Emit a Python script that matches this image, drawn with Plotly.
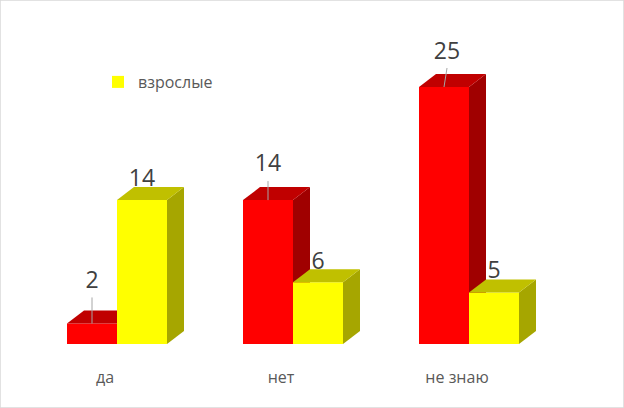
import plotly.graph_objects as go

categories = ["да", "нет", "не знаю"]
red_values = [2, 14, 25]
yellow_values = [14, 6, 5]
legend_name = "взрослые"

FONT = "Open Sans"
W, H = 624, 408
BASE_Y = 344          # pixel row of the axis
PX_PER_CAT = 176
PX_PER_UNIT = 10.28
GROUP0_X = 117        # pixel of first category centre

bar_w = 50 / PX_PER_CAT
dx = 17 / PX_PER_CAT
dy = 13 / PX_PER_UNIT
xrange_ = [-GROUP0_X / PX_PER_CAT, (W - GROUP0_X) / PX_PER_CAT]
yrange_ = [0, BASE_Y / PX_PER_UNIT]
pos = list(range(len(categories)))


def faces(values, offset, top_color, side_color, xa, ya):
    out = []
    for p, v in zip(pos, values):
        xl = p + offset
        xr = xl + bar_w
        out.append(go.Scatter(
            x=[xr, xr + dx, xr + dx, xr, xr], y=[0, dy, v + dy, v, 0],
            mode="lines", line=dict(width=0), fill="toself", fillcolor=side_color,
            showlegend=False, hoverinfo="skip", xaxis=xa, yaxis=ya))
        out.append(go.Scatter(
            x=[xl, xl + dx, xr + dx, xr, xl], y=[v, v + dy, v + dy, v, v],
            mode="lines", line=dict(width=0), fill="toself", fillcolor=top_color,
            showlegend=False, hoverinfo="skip", xaxis=xa, yaxis=ya))
    return out


fig = go.Figure()
fig.add_trace(go.Bar(x=pos, y=red_values, width=bar_w, offset=-bar_w,
                     marker=dict(color="#FF0000", line=dict(width=0)),
                     showlegend=False, xaxis="x", yaxis="y"))
fig.add_traces(faces(red_values, -bar_w, "#C00000", "#A00000", "x", "y"))

fig.add_trace(go.Bar(x=pos, y=yellow_values, width=bar_w, offset=0, name=legend_name,
                     marker=dict(color="#FFFF00", line=dict(width=0)),
                     showlegend=True, xaxis="x2", yaxis="y2"))
fig.add_traces(faces(yellow_values, 0, "#C0C000", "#A6A600", "x2", "y2"))

# leader lines and data labels
label_px_red = [41.5, 35, 34]
lead_px_red = [26, 19, 19]
lean_px_red = [0, 0, 3]
label_px_yellow = [20, 19, 20]
cx_red = -bar_w / 2
cx_yel = bar_w / 2
for p, v, lp, lean in zip(pos, red_values, lead_px_red, lean_px_red):
    fig.add_trace(go.Scatter(
        x=[p + cx_red, p + cx_red + lean / PX_PER_CAT], y=[v, v + lp / PX_PER_UNIT],
        mode="lines", line=dict(color="#A6A6A6", width=1), showlegend=False,
        hoverinfo="skip", xaxis="x2", yaxis="y2"))
fig.add_trace(go.Scatter(
    x=[p + cx_red + l / PX_PER_CAT for p, l in zip(pos, lean_px_red)],
    y=[v + o / PX_PER_UNIT for v, o in zip(red_values, label_px_red)],
    text=[str(v) for v in red_values], mode="text", textposition="middle center",
    textfont=dict(family=FONT, size=23, color="#404040"), showlegend=False,
    xaxis="x2", yaxis="y2"))
fig.add_trace(go.Scatter(
    x=[p + cx_yel for p in pos],
    y=[v + o / PX_PER_UNIT for v, o in zip(yellow_values, label_px_yellow)],
    text=[str(v) for v in yellow_values], mode="text", textposition="middle center",
    textfont=dict(family=FONT, size=23, color="#404040"), showlegend=False,
    xaxis="x2", yaxis="y2"))

fig.update_layout(
    width=W, height=H,
    margin=dict(l=0, r=0, t=0, b=H - BASE_Y, pad=0),
    paper_bgcolor="white", plot_bgcolor="white",
    barmode="overlay",
    font=dict(family=FONT, color="#595959", size=16),
    xaxis=dict(range=xrange_, tickmode="array", tickvals=pos, ticktext=categories,
               showgrid=False, zeroline=False, showline=False, ticks="",
               ticklabelstandoff=22, ticklabelshift=-12,
               tickfont=dict(family=FONT, size=16, color="#595959")),
    yaxis=dict(range=yrange_, visible=False),
    xaxis2=dict(range=xrange_, overlaying="x", visible=False),
    yaxis2=dict(range=yrange_, overlaying="y", visible=False),
    legend=dict(x=98 / W, y=1 - 65 / BASE_Y, xanchor="left", yanchor="top",
                bgcolor="rgba(0,0,0,0)", font=dict(family=FONT, size=16, color="#595959")),
    shapes=[dict(type="rect", xref="paper", yref="paper", x0=0, x1=1,
                 y0=-(H - BASE_Y) / BASE_Y, y1=1,
                 line=dict(color="#D9D9D9", width=1.5), fillcolor="rgba(0,0,0,0)")],
)

fig.write_html("out.html", config=dict(displayModeBar=False),
               post_script="document.body.style.margin='0';")
